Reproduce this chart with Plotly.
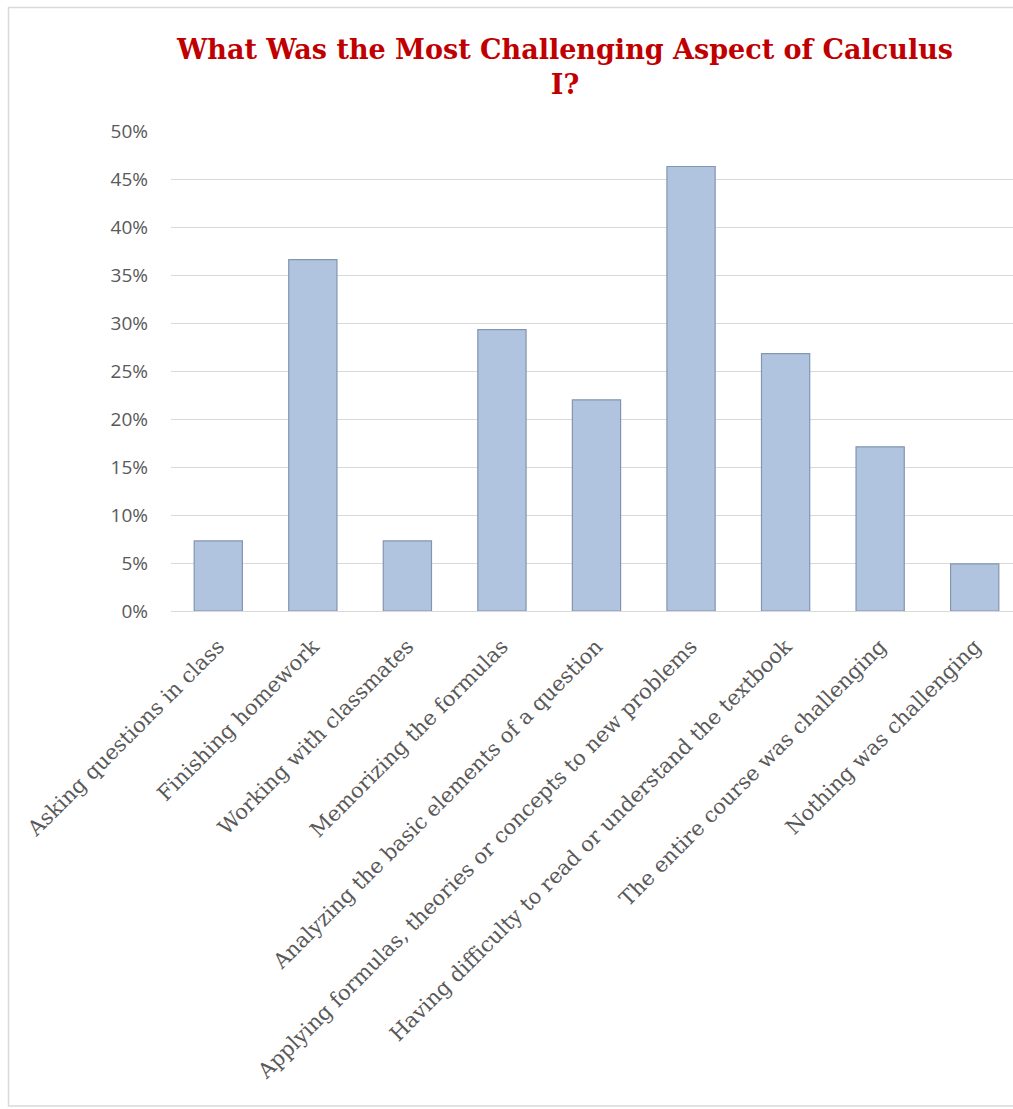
import plotly.graph_objects as go

categories = [
    "Asking questions in class",
    "Finishing homework",
    "Working with classmates",
    "Memorizing the formulas",
    "Analyzing the basic elements of a question",
    "Applying formulas, theories or concepts to new problems",
    "Having difficulty to read or understand the textbook",
    "The entire course was challenging",
    "Nothing was challenging",
]
values = [0.073, 0.366, 0.073, 0.293, 0.220, 0.463, 0.268, 0.171, 0.049]
y_ticks = [0, 0.05, 0.10, 0.15, 0.20, 0.25, 0.30, 0.35, 0.40, 0.45, 0.50]
y_tick_labels = ["0%", "5%", "10%", "15%", "20%", "25%", "30%", "35%", "40%", "45%", "50%"]
title_text = "What Was the Most Challenging Aspect of Calculus<br>I?"

W, H = 1013, 1109
L, R, T, B = 171, 0, 131, 498

fig = go.Figure()
fig.add_trace(go.Bar(
    x=categories,
    y=values,
    marker=dict(color="#B0C4E0", line=dict(color="#8395B0", width=1.2)),
    hoverinfo="x+y",
))

plot_w = W - L - R
plot_h = H - T - B

fig.update_layout(
    width=W, height=H,
    margin=dict(l=L, r=R, t=T, b=B, pad=0),
    paper_bgcolor="white",
    plot_bgcolor="white",
    bargap=0.49,
    showlegend=False,
    title=dict(
        text=title_text,
        x=565 / W, xref="container", xanchor="center",
        y=1 - 59 / H, yref="container", yanchor="top",
        font=dict(family="DejaVu Serif", size=27, color="#C00000", weight="bold"),
    ),
    xaxis=dict(
        range=[-0.5, 8.405],
        tickangle=-45,
        tickfont=dict(family="DejaVu Serif", size=21, color="#595959"),
        showgrid=False,
        showline=False,
        ticks="",
        ticklabelstandoff=18,
        fixedrange=True,
    ),
    yaxis=dict(
        range=[0, 0.5],
        tickvals=y_ticks,
        ticktext=y_tick_labels,
        tickfont=dict(family="Open Sans", size=19, color="#595959"),
        showgrid=True,
        gridcolor="#D9D9D9",
        gridwidth=1.3,
        zeroline=True,
        zerolinecolor="#D9D9D9",
        zerolinewidth=1.3,
        showline=False,
        ticks="",
        ticklabelstandoff=22,
        fixedrange=True,
    ),
    shapes=[dict(
        type="rect", xref="paper", yref="paper",
        x0=(8.5 - L) / plot_w, x1=1.2,
        y0=-(1106 - (H - B)) / plot_h, y1=1 + (T - 7.5) / plot_h,
        line=dict(color="#D9D9D9", width=1.5),
        layer="below",
    )],
)

fig.write_html("out.html")
